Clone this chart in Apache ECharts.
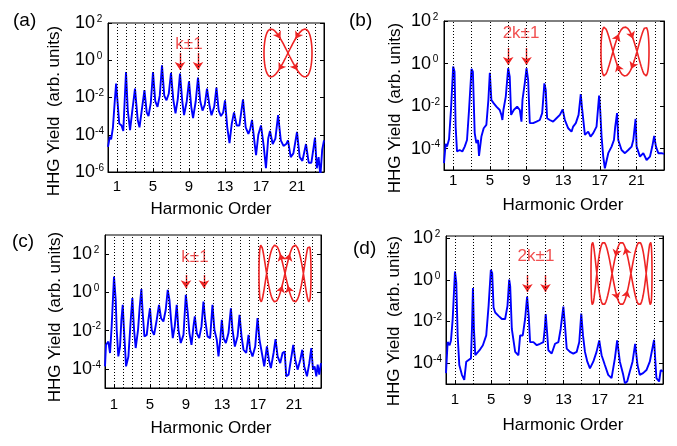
<!DOCTYPE html>
<html>
<head>
<meta charset="utf-8">
<script src="https://cdn.jsdelivr.net/npm/echarts@6/dist/echarts.min.js"></script>
<style>
  html, body { margin: 0; padding: 0; background: #fff; }
  #chart { width: 677px; height: 446px; }
</style>
</head>
<body>
<div id="chart"></div>
<script>
// harmonic order ticks shared by all panels
const orderTicks = [1, 5, 9, 13, 17, 21]
const allOrders = [1, 2, 3, 4, 5, 6, 7, 8, 9, 10, 11, 12, 13, 14, 15, 16, 17, 18, 19, 20, 21, 22, 23]
const oddOrders = [1, 3, 5, 7, 9, 11, 13, 15, 17, 19, 21, 23]

// spectra: [harmonic order, log10(yield)]
const specA = [
  [0, -4.65], [0.2, -4.1], [0.35, -4.25], [0.55, -3.6], [0.75, -2.2], [0.9, -1.25], [1.05, -1.3], [1.25, -3.4],
  [1.5, -3.5], [1.7, -3.8], [1.85, -2.2], [2.0, -0.63], [2.2, -2.7], [2.45, -3.75], [2.7, -2.7], [3.0, -1.52],
  [3.3, -3.2], [3.5, -3.6], [3.8, -2.5], [4.05, -1.6], [4.3, -2.8], [4.5, -3.0], [4.75, -2.3], [5.0, -0.63],
  [5.25, -2.2], [5.5, -2.5], [5.75, -1.9], [6.0, -0.27], [6.25, -1.9], [6.5, -2.15], [6.75, -1.8], [7.0, -0.68],
  [7.25, -2.1], [7.5, -2.85], [7.75, -2.1], [8.0, -0.72], [8.25, -2.2], [8.45, -2.95], [8.75, -2.2], [9.0, -1.13],
  [9.25, -2.5], [9.45, -3.1], [9.75, -2.2], [10.0, -0.93], [10.25, -2.2], [10.5, -2.7], [10.75, -2.4], [11.0, -1.52],
  [11.3, -2.5], [11.5, -2.95], [11.8, -2.5], [12.05, -1.47], [12.3, -2.7], [12.55, -3.0], [12.8, -2.8], [13.0, -2.15],
  [13.25, -3.6], [13.5, -4.45], [13.75, -3.4], [14.0, -2.8], [14.3, -3.5], [14.6, -3.5], [14.8, -2.8], [15.0, -2.1],
  [15.3, -3.6], [15.6, -3.95], [15.8, -3.7], [16.0, -3.2], [16.3, -4.5], [16.45, -5.1], [16.7, -4.0], [17.0, -3.5],
  [17.3, -4.6], [17.55, -5.8], [17.8, -4.2], [18.0, -3.8], [18.3, -4.5], [18.6, -4.2], [18.9, -2.95], [19.2, -4.3],
  [19.5, -4.6], [19.8, -4.5], [20.0, -4.3], [20.3, -5.2], [20.6, -5.0], [21.0, -3.85], [21.3, -5.2], [21.6, -5.4],
  [22.0, -4.5], [22.3, -5.5], [22.6, -5.5], [23.0, -4.15], [23.2, -5.8], [23.4, -5.2], [23.6, -6.2], [23.8, -4.8], [24, -4.3]
]
const specB = [
  [0, -4.68], [0.18, -3.77], [0.33, -3.9], [0.55, -3.56], [0.76, -2.18], [1.0, -0.14], [1.15, -0.38], [1.27, -2.96],
  [1.42, -4.13], [1.71, -4.06], [2.0, -4.13], [2.26, -3.9], [2.51, -3.59], [2.73, -2.18], [3.0, -0.25], [3.15, -0.38],
  [3.35, -3.27], [3.53, -3.74], [3.71, -3.59], [3.82, -4.34], [4.08, -3.43], [4.33, -3.04], [4.62, -2.88], [4.84, -1.71],
  [5.0, -0.43], [5.17, -1.71], [5.43, -1.87], [5.72, -2.02], [6.08, -2.18], [6.26, -2.41], [6.37, -2.65], [6.48, -2.18],
  [6.74, -1.55], [7.0, -0.22], [7.17, -0.61], [7.32, -2.41], [7.61, -2.18], [7.98, -2.02], [8.27, -2.18], [8.45, -2.73],
  [8.56, -1.71], [8.81, -0.93], [9.0, -0.22], [9.18, -0.77], [9.36, -2.8], [9.72, -2.8], [10.09, -2.73], [10.45, -2.65],
  [10.71, -2.33], [10.95, -0.93], [11.1, -1.24], [11.25, -2.57], [11.54, -2.65], [11.9, -2.73], [12.27, -2.57], [12.64, -2.41],
  [12.95, -2.15], [13.18, -2.65], [13.55, -3.04], [13.91, -3.2], [14.09, -2.96], [14.38, -2.8], [14.68, -2.41], [14.92, -1.44],
  [15.08, -2.18], [15.37, -3.35], [15.73, -3.2], [15.99, -3.43], [16.28, -3.27], [16.64, -2.96], [16.92, -1.5], [17.04, -2.18],
  [17.19, -3.43], [17.37, -4.37], [17.55, -4.92], [17.92, -4.21], [18.28, -3.9], [18.54, -3.59], [18.68, -2.96], [18.88, -2.33],
  [19.01, -3.59], [19.37, -4.06], [19.74, -4.21], [20.1, -4.06], [20.47, -3.9], [20.65, -3.59], [20.9, -2.6], [21.01, -3.9],
  [21.38, -4.37], [21.74, -4.21], [22.1, -4.53], [22.47, -4.37], [22.72, -3.9], [22.93, -3.4], [23.12, -3.9], [23.38, -4.21],
  [23.74, -4.21], [24, -4.24]
]
const specC = [
  [0, -3.87], [0.11, -2.74], [0.37, -2.57], [0.56, -3.17], [0.74, -1.78], [1.0, 0.83], [1.19, -0.39], [1.3, -1.96],
  [1.48, -3.35], [1.67, -2.83], [1.82, -1.43], [1.97, -0.65], [2.11, -1.96], [2.34, -3.87], [2.6, -3.35], [2.86, -1.43],
  [3.04, -0.3], [3.23, -1.96], [3.41, -2.91], [3.67, -1.96], [3.86, -0.74], [4.04, 0.17], [4.19, -1.09], [4.38, -2.3],
  [4.64, -2.22], [4.82, -1.43], [5.0, -0.83], [5.19, -1.96], [5.45, -2.22], [5.75, -1.43], [6.0, -0.65], [6.23, -1.35],
  [6.49, -1.52], [6.75, -0.91], [6.97, 0.13], [7.16, -0.39], [7.34, -1.43], [7.53, -2.39], [7.75, -1.78], [7.97, -0.65],
  [8.16, -1.96], [8.42, -2.65], [8.72, -2.22], [8.98, -0.13], [9.2, -1.09], [9.38, -2.13], [9.61, -2.74], [9.83, -1.78],
  [9.98, -1.26], [10.2, -2.13], [10.46, -2.39], [10.72, -1.78], [10.94, -0.48], [11.13, -1.43], [11.39, -2.3], [11.68, -2.39],
  [11.94, -0.65], [12.16, -1.96], [12.42, -2.48], [12.61, -3.35], [12.8, -2.48], [12.98, -1.43], [13.17, -2.39], [13.43, -2.65],
  [13.72, -2.13], [13.99, -0.83], [14.17, -1.96], [14.43, -2.83], [14.73, -2.3], [14.95, -1.17], [15.17, -2.3], [15.39, -3.0],
  [15.69, -3.17], [15.95, -2.22], [16.13, -3.0], [16.39, -3.35], [16.69, -2.83], [16.95, -1.35], [17.17, -2.48], [17.43, -3.17],
  [17.69, -3.87], [17.99, -2.83], [18.21, -3.52], [18.43, -3.96], [18.73, -3.17], [18.95, -2.44], [19.18, -3.35], [19.47, -3.7],
  [19.73, -3.17], [19.96, -3.09], [20.14, -4.39], [20.4, -4.3], [20.66, -3.52], [20.92, -2.74], [21.14, -3.52], [21.4, -4.04],
  [21.7, -3.52], [21.92, -3.0], [22.14, -3.87], [22.44, -4.39], [22.7, -3.7], [22.92, -2.91], [23.11, -4.04], [23.29, -3.87],
  [23.48, -4.39], [23.63, -3.78], [23.81, -4.3], [24, -3.7]
]
const specD = [
  [0, -4.48], [0.18, -2.99], [0.4, -3.14], [0.55, -2.91], [0.74, -1.88], [0.99, 0.4], [1.14, -0.15], [1.29, -2.67],
  [1.47, -4.09], [1.76, -4.56], [2.02, -4.8], [2.24, -3.93], [2.5, -3.85], [2.76, -3.77], [2.87, -2.36], [2.98, -0.39],
  [3.09, -2.36], [3.24, -3.62], [3.42, -3.54], [3.71, -3.38], [4.08, -3.14], [4.45, -2.67], [4.71, -1.25], [4.96, 0.48],
  [5.11, 0.32], [5.26, -1.33], [5.44, -1.57], [5.81, -1.73], [6.18, -1.88], [6.54, -1.88], [6.8, -1.25], [6.99, 0.01],
  [7.1, -0.31], [7.28, -2.36], [7.65, -3.46], [8.01, -3.62], [8.2, -2.67], [8.49, -2.67], [8.75, -1.88], [8.97, -0.81],
  [9.15, -1.73], [9.3, -2.99], [9.49, -3.07], [9.67, -2.99], [10.04, -3.14], [10.4, -3.07], [10.77, -2.99], [10.92, -2.36],
  [11.03, -1.65], [11.18, -2.51], [11.32, -3.38], [11.69, -3.54], [12.06, -3.07], [12.43, -2.99], [12.68, -2.36], [12.98, -1.29],
  [13.16, -2.2], [13.35, -3.3], [13.71, -3.46], [14.08, -3.54], [14.45, -3.46], [14.74, -2.99], [14.96, -1.62], [15.15, -2.67],
  [15.37, -3.46], [15.63, -3.93], [15.92, -4.25], [16.29, -3.93], [16.65, -3.46], [16.95, -2.91], [17.21, -3.62], [17.57, -4.09],
  [17.94, -4.56], [18.31, -4.72], [18.68, -3.77], [18.93, -2.91], [19.23, -3.93], [19.6, -4.56], [19.78, -4.96], [20.04, -4.88],
  [20.33, -4.4], [20.63, -3.93], [20.92, -3.07], [21.18, -4.09], [21.43, -4.56], [21.8, -4.48], [22.17, -4.33], [22.54, -3.93],
  [23.01, -2.88], [23.27, -4.72], [23.57, -4.88], [23.75, -4.33], [24, -4.4]
]

const spectra = [specA, specB, specC, specD]
const panelNames = ['(a)', '(b)', '(c)', '(d)']
const yExtents = [[-6, 2], [-5, 2], [-5, 3], [-5, 2.1]]        // log10 of axis min / max
const yTickExps = [[-6, -4, -2, 0, 2], [-4, -2, 0, 2], [-4, -2, 0, 2], [-4, -2, 0, 2]]
const gridOrders = [allOrders, oddOrders, allOrders, oddOrders]
const ruleLabels = ['k±1', '2k±1', 'k±1', '2k±1']
const arrowOrders = [[8, 10], [7, 9], [9, 11], [9, 11]]
const arrowSpan = [[0.39, -0.53], [0.73, -0.07], [0.91, 0.22], [0.23, -0.59]]  // log10 from / to
const ruleLabelAt = [[9.0, 0.87], [8.4, 1.44], [10.0, 1.85], [9.95, 1.14]]
const lissajousN = [2, 3, 4, 5]          // y frequency vs x for the field inset
const insetArrowDt = [0.36, 0.3, 0.15, 0.16]

// placement in pixels
const layout = [
  { left: 108, top: 23, width: 216, height: 149, name: [13, 21], yTitle: [54, 111], xTitle: [211, 209], inset: [264, 29, 48, 48], xMargin: 7 },
  { left: 444, top: 21, width: 220, height: 149, name: [349, 21], yTitle: [395, 108], xTitle: [563, 205], inset: [601, 27, 48, 49], xMargin: 3 },
  { left: 105, top: 235, width: 216, height: 153, name: [12, 242], yTitle: [55, 317], xTitle: [211, 428], inset: [259, 245, 52, 57], xMargin: 9 },
  { left: 446, top: 236, width: 217, height: 148, name: [353, 249], yTitle: [394, 321], xTitle: [563, 425], inset: [591, 242, 61, 63], xMargin: 8 }
]

const FONT = '"Liberation Sans", Arial, Helvetica, sans-serif'
const RED = '#ee2424'
const BLUE = '#0000ff'

function lissajous(n) {
  const pts = []
  for (let k = 0; k <= 400; k++) {
    const t = (2 * Math.PI * k) / 400
    pts.push([Math.cos(t), Math.sin(n * t)])
  }
  return pts
}

const grids = []
const xAxes = []
const yAxes = []
const series = []
const graphics = []

layout.forEach((p, i) => {
  grids.push({ left: p.left, top: p.top, width: p.width, height: p.height, show: true, borderColor: '#000', borderWidth: 1, backgroundColor: '#fff' })
})
layout.forEach((p, i) => {
  const b = p.inset
  grids.push({ left: b[0], top: b[1], width: b[2], height: b[3], show: false })
})

// main x axes
layout.forEach((p, i) => {
  xAxes.push({
    type: 'value', gridIndex: i, min: 0, max: 24,
    axisLine: { show: true, lineStyle: { color: '#000', width: 1 } },
    axisTick: { show: true, inside: true, length: 3, customValues: orderTicks, lineStyle: { color: '#000' } },
    axisLabel: { show: true, customValues: orderTicks, margin: p.xMargin, color: '#000', fontSize: 15, fontFamily: FONT },
    splitLine: { show: false }
  })
})
// inset x axes
layout.forEach((p, i) => {
  xAxes.push({ type: 'value', gridIndex: 4 + i, min: -1, max: 1, show: false })
})

const yLabelRich = {
  b: { fontSize: 18, fontFamily: FONT, color: '#000' },
  s: { fontSize: 10, fontFamily: FONT, color: '#000', verticalAlign: 'top', width: 9, align: 'left' }
}
// left y axes
layout.forEach((p, i) => {
  const ticks = yTickExps[i].map(e => Math.pow(10, e))
  yAxes.push({
    type: 'log', logBase: 10, gridIndex: i,
    min: Math.pow(10, yExtents[i][0]), max: Math.pow(10, yExtents[i][1]),
    axisLine: { show: true, lineStyle: { color: '#000', width: 1 } },
    axisTick: { show: true, inside: true, length: 4, customValues: ticks, lineStyle: { color: '#000' } },
    axisLabel: {
      show: true, customValues: ticks, margin: 4,
      formatter: v => '{b|10}{s|' + Math.round(Math.log10(v)) + '}',
      rich: yLabelRich
    },
    splitLine: { show: false }
  })
})
// right y axes (ticks only)
layout.forEach((p, i) => {
  const ticks = yTickExps[i].map(e => Math.pow(10, e))
  yAxes.push({
    type: 'log', logBase: 10, gridIndex: i, position: 'right',
    min: Math.pow(10, yExtents[i][0]), max: Math.pow(10, yExtents[i][1]),
    axisLine: { show: true, lineStyle: { color: '#000', width: 1 } },
    axisTick: { show: true, inside: true, length: 4, customValues: ticks, lineStyle: { color: '#000' } },
    axisLabel: { show: false },
    splitLine: { show: false }
  })
})
// inset y axes
layout.forEach((p, i) => {
  yAxes.push({ type: 'value', gridIndex: 4 + i, min: -1, max: 1, show: false })
})

layout.forEach((p, i) => {
  // dotted harmonic guides
  series.push({
    type: 'line', xAxisIndex: i, yAxisIndex: i, data: [], silent: true, z: 1,
    markLine: {
      silent: true, symbol: 'none', label: { show: false },
      lineStyle: { color: '#000', type: [1, 2], width: 1 },
      data: gridOrders[i].map(h => ({ xAxis: h }))
    }
  })
  // spectrum
  series.push({
    type: 'line', xAxisIndex: i, yAxisIndex: i, z: 3,
    data: spectra[i].map(([h, e]) => [h, Math.pow(10, e)]),
    showSymbol: false, lineStyle: { color: BLUE, width: 1.9 }
  })
  // selection arrows
  series.push({
    type: 'lines', coordinateSystem: 'cartesian2d', xAxisIndex: i, yAxisIndex: i, z: 4,
    symbol: ['none', 'arrow'], symbolSize: 8,
    lineStyle: { color: RED, width: 1.4, opacity: 1 },
    data: arrowOrders[i].map(h => ({ coords: [[h, Math.pow(10, arrowSpan[i][0])], [h, Math.pow(10, arrowSpan[i][1])]] }))
  })
  // selection rule label
  series.push({
    type: 'scatter', xAxisIndex: i, yAxisIndex: i, z: 4, symbolSize: 1,
    itemStyle: { color: 'rgba(0,0,0,0)' },
    data: [[ruleLabelAt[i][0], Math.pow(10, ruleLabelAt[i][1])]],
    label: { show: true, position: 'inside', formatter: ruleLabels[i], color: RED, fontSize: 17, fontFamily: FONT }
  })
  // field inset
  series.push({
    type: 'line', xAxisIndex: 4 + i, yAxisIndex: 8 + i, z: 5, clip: false,
    data: lissajous(lissajousN[i]), showSymbol: false,
    lineStyle: { color: RED, width: 1.6 }
  })
  const n = lissajousN[i]
  const dt = insetArrowDt[i]
  const ts = [Math.PI / 2 - dt, Math.PI / 2 + dt, 1.5 * Math.PI - dt, 1.5 * Math.PI + dt]
  series.push({
    type: 'lines', coordinateSystem: 'cartesian2d', xAxisIndex: 4 + i, yAxisIndex: 8 + i, z: 6,
    symbol: ['none', 'arrow'], symbolSize: 7,
    lineStyle: { color: RED, width: 1.2, opacity: 1 },
    data: ts.map(t => ({ coords: [[Math.cos(t), Math.sin(n * t)], [Math.cos(t + 0.04), Math.sin(n * (t + 0.04))]] }))
  })

  graphics.push({
    type: 'text', x: p.name[0], y: p.name[1],
    style: { text: panelNames[i], font: '19px ' + FONT, fill: '#000', textAlign: 'left', textVerticalAlign: 'middle', align: 'left', verticalAlign: 'middle' }
  })
  graphics.push({
    type: 'text', x: p.yTitle[0], y: p.yTitle[1], rotation: Math.PI / 2,
    style: { text: 'HHG Yield  (arb. units)', font: '17px ' + FONT, fill: '#000', textAlign: 'center', textVerticalAlign: 'middle', align: 'center', verticalAlign: 'middle' }
  })
  graphics.push({
    type: 'text', x: p.xTitle[0], y: p.xTitle[1],
    style: { text: 'Harmonic Order', font: '17px ' + FONT, fill: '#000', textAlign: 'center', textVerticalAlign: 'middle', align: 'center', verticalAlign: 'middle' }
  })
})

const chart = echarts.init(document.getElementById('chart'), null, { renderer: 'canvas' })
chart.setOption({
  animation: false,
  backgroundColor: '#fff',
  grid: grids,
  xAxis: xAxes,
  yAxis: yAxes,
  series: series,
  graphic: graphics
})
</script>
</body>
</html>
